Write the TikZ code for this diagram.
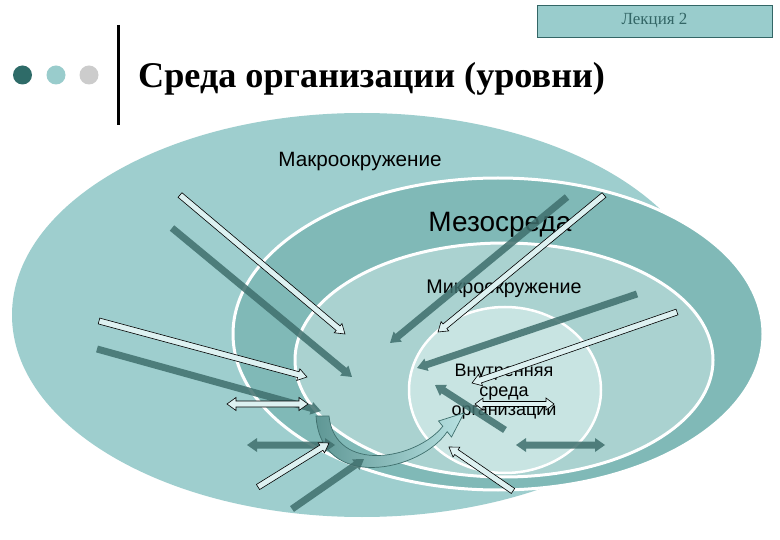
\documentclass[tikz,border=0pt]{standalone}
\usepackage{fontspec}
\setmainfont{Liberation Serif}
\newfontfamily\arialf{Liberation Sans}
\usetikzlibrary{calc}
\definecolor{macroC}{HTML}{9ECECE}
\definecolor{mesoC}{HTML}{80B9B7}
\definecolor{microC}{HTML}{AAD2D0}
\definecolor{innerC}{HTML}{C8E4E2}
\definecolor{arrW}{HTML}{DDF1F1}
\definecolor{arrD}{HTML}{3F6F6D}
\definecolor{dotA}{HTML}{2E6B68}
\definecolor{dotB}{HTML}{99CCCC}
\definecolor{dotC}{HTML}{CCCCCC}
\definecolor{boxC}{HTML}{99CCCC}
\definecolor{boxLine}{HTML}{336666}
\definecolor{curveD}{HTML}{5F9795}
\definecolor{curveL}{HTML}{B8E2E2}
\tikzset{
  whitearr/.style={fill=arrW, draw=black, line width=0.6pt},
  darkarr/.style={fill=arrD, fill opacity=0.85, draw=none},
  ringline/.style={draw=white, line width=3pt},
  lbl/.style={font=\arialf, text=black, inner sep=0pt},
}
% single block arrow: style, tail, head, shaft half width, head half width, head length
\newcommand\blockarr[6]{%
  \path[#1] let \p1=(#2), \p2=(#3),
     \n1={atan2(\y2-\y1,\x2-\x1)}, \n2={veclen(\x2-\x1,\y2-\y1)} in
    [shift={(\p1)}, rotate=\n1]
    (0pt,#4pt) -- ({\n2-#6pt},#4pt) -- ({\n2-#6pt},#5pt) -- (\n2,0pt)
    -- ({\n2-#6pt},-#5pt) -- ({\n2-#6pt},-#4pt) -- (0pt,-#4pt) -- cycle;}
% double block arrow
\newcommand\dblarr[6]{%
  \path[#1] let \p1=(#2), \p2=(#3),
     \n1={atan2(\y2-\y1,\x2-\x1)}, \n2={veclen(\x2-\x1,\y2-\y1)} in
    [shift={(\p1)}, rotate=\n1]
    (0pt,0pt) -- (#6pt,#5pt) -- (#6pt,#4pt) -- ({\n2-#6pt},#4pt) -- ({\n2-#6pt},#5pt)
    -- (\n2,0pt) -- ({\n2-#6pt},-#5pt) -- ({\n2-#6pt},-#4pt) -- (#6pt,-#4pt)
    -- (#6pt,-#5pt) -- cycle;}
\begin{document}
\begin{tikzpicture}[x=1pt,y=-1pt]
\useasboundingbox (0,0) rectangle (780,540);
\fill[white] (0,0) rectangle (780,540);

% header
\node[draw=boxLine, fill=boxC, line width=0.8pt, minimum width=235pt, minimum height=32pt, inner sep=0pt,
      text=boxLine, font=\fontsize{17}{20}\selectfont] (lect) at (654.5,21) {Лекция 2};
\fill[dotA] (22.5,75) circle[radius=9.5pt];
\fill[dotB] (56,75) circle[radius=9.5pt];
\fill[dotC] (89,75) circle[radius=9.5pt];
\coordinate (vt) at (118,25);
\coordinate (vb) at (118,125);
\draw[black, line width=3pt] (vt) -- (vb);
\node[anchor=base west, inner sep=0pt, font=\fontsize{36.2}{40}\selectfont\bfseries] (title) at (138,88)
  {Среда организации (уровни)};

% levels
\fill[macroC] (362,315) ellipse[x radius=350pt, y radius=202pt];
\path[fill=mesoC, ringline] (498,334) ellipse[x radius=265pt, y radius=156pt];
\path[fill=microC, ringline] (504,360) ellipse[x radius=209pt, y radius=117pt];
\path[fill=innerC, ringline, line width=2.5pt] (505,390) ellipse[x radius=96pt, y radius=83pt];

% labels
\node[lbl, font=\arialf\fontsize{20.7}{22}\selectfont] (macro) at (360,162) {Макроокружение};
\node[lbl, font=\arialf\fontsize{28}{30}\selectfont] (meso) at (500,225) {Мезосреда};
\node[lbl, font=\arialf\fontsize{19.7}{22}\selectfont] (micro) at (504,289) {Микроокружение};
\node[lbl, font=\arialf\fontsize{18}{19.5}\selectfont, align=center] (inner) at (504,392)
  {Внутренняя\\среда\\организации};

% curved arrow
\coordinate (cs1) at (316,416);
\coordinate (cs2) at (329,416);
\coordinate (cb1) at (447.2,431.7);
\coordinate (cw1) at (451.5,437);
\coordinate (ctip) at (464,413);
\coordinate (cw2) at (438.5,421);
\coordinate (cb2) at (442.8,426.3);
\path[left color=curveD, right color=curveL, draw=arrD, line width=0.7pt]
  (cs1) .. controls (321,492) and (420,472) .. (cb1) -- (cw1) -- (ctip) -- (cw2) -- (cb2)
  .. controls (416,460) and (335,474) .. (cs2) -- cycle;

% arrow end points
\coordinate (a1t) at (180,195); \coordinate (a1h) at (345,334);
\coordinate (d1t) at (172,228); \coordinate (d1h) at (352,377);
\coordinate (a2t) at (99,321);  \coordinate (a2h) at (307,377);
\coordinate (d2t) at (97,349);  \coordinate (d2h) at (321,411);
\coordinate (w1a) at (227,404); \coordinate (w1b) at (308,404);
\coordinate (k1a) at (247,445); \coordinate (k1b) at (335,445);
\coordinate (a3t) at (258,487); \coordinate (a3h) at (329,443);
\coordinate (d3t) at (292,509); \coordinate (d3h) at (364,459);
\coordinate (d4t) at (567,197); \coordinate (d4h) at (390,343);
\coordinate (a4t) at (604,195); \coordinate (a4h) at (438,332);
\coordinate (d5t) at (637,294); \coordinate (d5h) at (417,368);
\coordinate (a5t) at (677,312); \coordinate (a5h) at (472,383);
\coordinate (w2a) at (475,404); \coordinate (w2b) at (554,404);
\coordinate (d6t) at (505,430); \coordinate (d6h) at (435,385);
\coordinate (k2a) at (516,445); \coordinate (k2b) at (605,445);
\coordinate (a6t) at (513,491); \coordinate (a6h) at (449,447);

% arrows
\blockarr{darkarr}{d1t}{d1h}{3.5}{6.5}{10}
\blockarr{whitearr}{a1t}{a1h}{3}{6}{9}
\blockarr{darkarr}{d2t}{d2h}{3.5}{6.5}{10}
\blockarr{whitearr}{a2t}{a2h}{3}{6}{9}
\dblarr{whitearr}{w1a}{w1b}{3}{6.5}{9}
\dblarr{darkarr}{k1a}{k1b}{3.5}{7}{10}
\blockarr{whitearr}{a3t}{a3h}{3}{6}{9}
\blockarr{darkarr}{d3t}{d3h}{3.5}{6.5}{10}
\blockarr{darkarr}{d4t}{d4h}{3.5}{6.5}{10}
\blockarr{whitearr}{a4t}{a4h}{3}{6}{9}
\blockarr{darkarr}{d5t}{d5h}{3.5}{6.5}{10}
\blockarr{whitearr}{a5t}{a5h}{3}{6}{9}
\blockarr{darkarr}{d6t}{d6h}{3.5}{6.5}{10}
\dblarr{whitearr}{w2a}{w2b}{2.5}{6}{8}
\dblarr{darkarr}{k2a}{k2b}{3.5}{7}{10}
\blockarr{whitearr}{a6t}{a6h}{3}{6}{9}
\end{tikzpicture}
\end{document}
